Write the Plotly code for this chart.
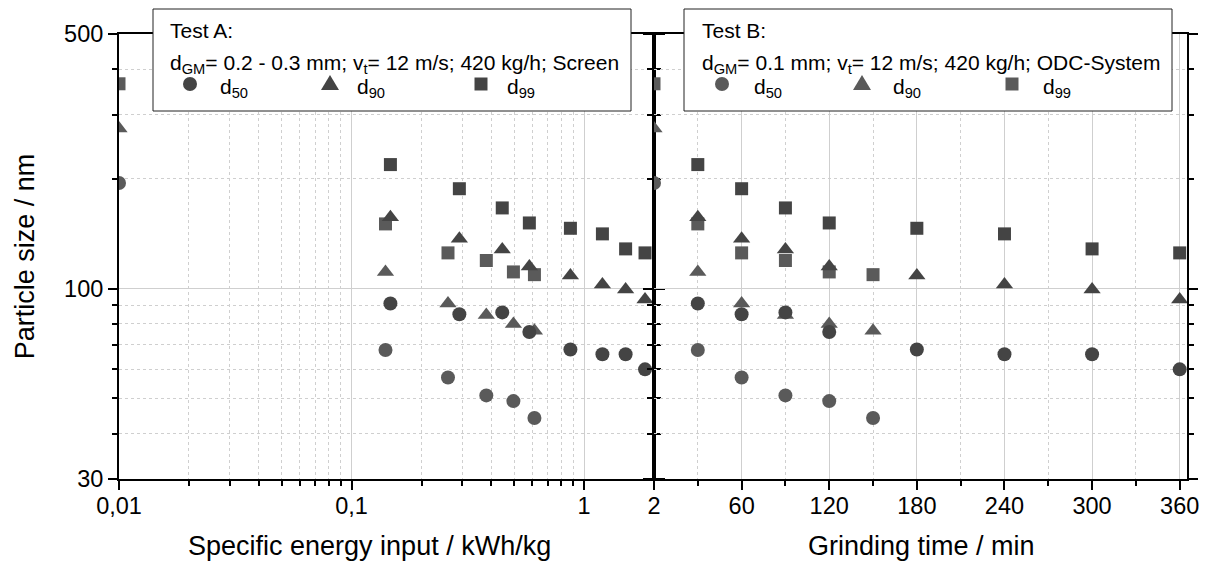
import numpy as np
import plotly.graph_objects as go

# ---------------- data ----------------
# Test A (dark markers)
energy_A = [0.147, 0.291, 0.445, 0.582, 0.874, 1.20, 1.51, 1.83]
time_A = [30, 60, 90, 120, 180, 240, 300, 360]
d50_A = [91, 85, 86, 76, 68, 66, 66, 60]
d90_A = [157, 137, 128, 115, 108.6, 102.6, 99.4, 93.3]
d99_A = [219, 188, 166.5, 151.4, 146.4, 141.3, 128.5, 125.3]

# Test B (lighter markers), first point = feed material
energy_B = [0.01, 0.140, 0.260, 0.380, 0.497, 0.612]
time_B = [0, 30, 60, 90, 120, 150]
d50_B = [195, 67.8, 57.0, 50.9, 49.1, 44.1]
d90_B = [275, 111, 91, 84.6, 79.9, 76.6]
d99_B = [365, 150.5, 125.3, 119.4, 111.1, 109.2]

x1_tickvals = [0.01, 0.1, 1, 2]
x1_ticktext = ["0,01", "0,1", "1", "2"]
x1_minor = [0.02, 0.03, 0.04, 0.05, 0.06, 0.07, 0.08, 0.09,
            0.2, 0.3, 0.4, 0.5, 0.6, 0.7, 0.8, 0.9]
x2_tickvals = [60, 120, 180, 240, 300, 360]
x2_minor = [30, 90, 150, 210, 270, 330]
y_tickvals = [30, 100, 500]
y_minor = [40, 50, 60, 70, 80, 90, 200, 300, 400]

legend_titles = ["Test A:", "Test B:"]
legend_lines = ["d<sub>GM</sub>= 0.2 - 0.3 mm; v<sub>t</sub>= 12 m/s; 420 kg/h; Screen",
                "d<sub>GM</sub>= 0.1 mm; v<sub>t</sub>= 12 m/s; 420 kg/h; ODC-System"]
names = ["d<sub>50</sub>", "d<sub>90</sub>", "d<sub>99</sub>"]
x_titles = ["Specific energy input / kWh/kg", "Grinding time / min"]
y_title = "Particle size / nm"

# ---------------- style / geometry ----------------
COL_A = "#444444"
COL_B = "#5a5a5a"
FONT = "Liberation Sans, Arial, sans-serif"
symbols = ["circle", "triangle-up", "square"]
sizes = [14, 15, 13]

W, H = 1215, 563
ML, MR, MT, MB = 119, 28, 34, 84
PW = W - ML - MR
PH = H - MT - MB


def px(xp):
    return (xp - ML) / PW


def py(yp):
    return (H - MB - yp) / PH


fig = go.Figure()
series_A = [d50_A, d90_A, d99_A]
series_B = [d50_B, d90_B, d99_B]

for i in range(3):
    fig.add_trace(go.Scatter(x=energy_B, y=series_B[i], mode="markers", name=names[i],
                             marker=dict(symbol=symbols[i], size=sizes[i], color=COL_B),
                             showlegend=False, xaxis="x", yaxis="y"))
    fig.add_trace(go.Scatter(x=time_B, y=series_B[i], mode="markers", name=names[i],
                             marker=dict(symbol=symbols[i], size=sizes[i], color=COL_B),
                             showlegend=False, xaxis="x2", yaxis="y2"))
for i in range(3):
    fig.add_trace(go.Scatter(x=energy_A, y=series_A[i], mode="markers", name=names[i],
                             marker=dict(symbol=symbols[i], size=sizes[i], color=COL_A),
                             showlegend=False, xaxis="x", yaxis="y"))
    fig.add_trace(go.Scatter(x=time_A, y=series_A[i], mode="markers", name=names[i],
                             marker=dict(symbol=symbols[i], size=sizes[i], color=COL_A),
                             showlegend=False, xaxis="x2", yaxis="y2"))

GRID = "#cfcfcf"
TICKFONT = dict(family=FONT, size=23.5, color="black")
TITLEFONT = dict(family=FONT, size=27, color="black")

common = dict(showline=True, linecolor="black", linewidth=2, ticks="outside",
              ticklen=9, tickwidth=2, tickcolor="black", showgrid=True,
              gridcolor=GRID, gridwidth=1, zeroline=False, tickfont=TICKFONT)


def minor(vals):
    return dict(tickmode="array", tickvals=vals, ticks="outside", ticklen=5,
                tickwidth=2, tickcolor="black", showgrid=True,
                gridcolor=GRID, griddash="dot", gridwidth=1)


split = (654 - ML) / PW
yr = [np.log10(30), np.log10(500)]
fig.update_layout(
    width=W, height=H,
    margin=dict(l=ML, r=MR, t=MT, b=MB),
    paper_bgcolor="white", plot_bgcolor="white",
    font=dict(family=FONT, color="black"),
    showlegend=False,
    xaxis=dict(type="log", range=[np.log10(0.01), np.log10(2)], domain=[0, split],
               tickmode="array", tickvals=x1_tickvals, ticktext=x1_ticktext,
               ticklabelstandoff=-4,
               mirror=True, anchor="y", minor=minor(x1_minor), **common),
    xaxis2=dict(type="linear", range=[0, 365], domain=[split, 1],
                tickmode="array", tickvals=x2_tickvals, ticklabelstandoff=-4,
                mirror=True, anchor="y2", minor=minor(x2_minor), **common),
    yaxis=dict(type="log", range=yr, anchor="x",
               tickmode="array", tickvals=y_tickvals, mirror="ticks", minor=minor(y_minor),
               title=dict(text=y_title, font=TITLEFONT, standoff=22),
               **common),
    yaxis2=dict(type="log", range=yr, anchor="x2", matches="y", showticklabels=False,
                tickmode="array", tickvals=y_tickvals, mirror="ticks", minor=minor(y_minor),
                **common),
)

shapes = []
annotations = []

# x-axis titles (placed as in the reference)
for t, cxp in zip(x_titles, [369, 921]):
    annotations.append(dict(xref="paper", yref="paper", x=px(cxp), y=py(546),
                            xanchor="center", yanchor="middle", showarrow=False,
                            text=t, font=TITLEFONT))

# ---------------- manual legends ----------------
LFONT = dict(family=FONT, size=21, color="black")
boxes = [
    dict(x0=153, x1=631, tx=168, gx=[190, 330, 481], lx=[218, 355, 505], col=COL_A),
    dict(x0=684, x1=1172, tx=700, gx=[722, 862, 1012], lx=[752, 891, 1041], col=COL_B),
]
BOX_Y0, BOX_Y1 = 9, 111
ROW1, ROW2, ROW3 = 31, 64, 84
for k, b in enumerate(boxes):
    shapes.append(dict(type="rect", xref="paper", yref="paper", layer="above",
                       x0=px(b["x0"]), x1=px(b["x1"]), y0=py(BOX_Y1), y1=py(BOX_Y0),
                       fillcolor="white", line=dict(color="#222222", width=1)))
    cx, cy = b["gx"][0], ROW3
    shapes.append(dict(type="circle", xref="paper", yref="paper", layer="above",
                       x0=px(cx - 7), x1=px(cx + 7), y0=py(cy + 7), y1=py(cy - 7),
                       fillcolor=b["col"], line=dict(width=0)))
    cx = b["gx"][1]
    path = "M {:.5f},{:.5f} L {:.5f},{:.5f} L {:.5f},{:.5f} Z".format(
        px(cx), py(cy - 9), px(cx - 9), py(cy + 6), px(cx + 9), py(cy + 6))
    shapes.append(dict(type="path", xref="paper", yref="paper", layer="above", path=path,
                       fillcolor=b["col"], line=dict(width=0)))
    cx = b["gx"][2]
    shapes.append(dict(type="rect", xref="paper", yref="paper", layer="above",
                       x0=px(cx - 6.5), x1=px(cx + 6.5), y0=py(cy + 6.5), y1=py(cy - 6.5),
                       fillcolor=b["col"], line=dict(width=0)))
    annotations.append(dict(xref="paper", yref="paper", x=px(b["tx"]), y=py(ROW1),
                            xanchor="left", yanchor="middle", showarrow=False,
                            text=legend_titles[k], font=LFONT))
    annotations.append(dict(xref="paper", yref="paper", x=px(b["tx"]), y=py(ROW2),
                            xanchor="left", yanchor="middle", showarrow=False,
                            text=legend_lines[k], font=LFONT))
    for j in range(3):
        annotations.append(dict(xref="paper", yref="paper", x=px(b["lx"][j]), y=py(ROW3 + 4),
                                xanchor="left", yanchor="middle", showarrow=False,
                                text=names[j], font=LFONT))

fig.update_layout(shapes=shapes, annotations=annotations)

# the page's default 8px body margin would shift the whole figure; remove it
fig.write_html("out.html",
               config={"displayModeBar": False},
               post_script="document.body.style.margin='0';document.body.style.overflow='hidden';")
